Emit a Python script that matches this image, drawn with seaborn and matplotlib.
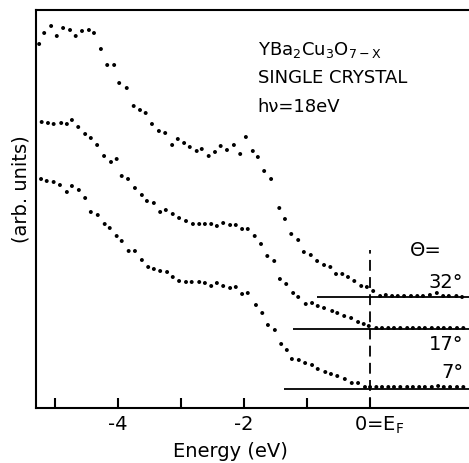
import numpy as np
import pandas as pd
import matplotlib
matplotlib.use("Agg")
import matplotlib.pyplot as plt
import matplotlib.transforms as mtransforms
import seaborn as sns

# photoemission spectra, energy relative to E_F (eV) and intensity (arb. units)
e_32 = [-5.25, -5.17, -5.06, -4.97, -4.87, -4.76, -4.67, -4.57, -4.46, -4.38,
        -4.27, -4.17, -4.06, -3.98, -3.86, -3.75, -3.65, -3.56, -3.46, -3.35,
        -3.25, -3.14, -3.05, -2.95, -2.86, -2.75, -2.67, -2.56, -2.46, -2.37,
        -2.27, -2.16, -2.06, -1.97, -1.86, -1.78, -1.68, -1.57, -1.44, -1.35,
        -1.25, -1.14, -1.05, -0.94, -0.84, -0.73, -0.63, -0.54, -0.44, -0.35,
        -0.25, -0.14, -0.05, 0.05, 0.16, 0.25, 0.35, 0.44, 0.54, 0.65,
        0.75, 0.84, 0.95, 1.06, 1.16, 1.25, 1.37, 1.46]
i_32 = [364, 375, 382, 372, 380, 378, 372, 377, 378, 375,
        359, 343, 343, 325, 320, 302, 298, 295, 284, 277,
        275, 263, 269, 265, 261, 257, 259, 252, 256, 262,
        258, 263, 254, 271, 257, 251, 237, 229, 200, 189,
        174, 168, 156, 153, 147, 143, 141, 134, 134, 131,
        127, 122, 121, 117, 112, 113, 112, 112, 112, 112,
        112, 112, 113, 115, 112, 112, 112, 111]

e_17 = [-5.21, -5.11, -5.02, -4.90, -4.81, -4.73, -4.63, -4.52, -4.43, -4.33,
        -4.22, -4.11, -4.02, -3.94, -3.84, -3.73, -3.62, -3.54, -3.43, -3.33,
        -3.24, -3.13, -3.03, -2.92, -2.81, -2.71, -2.62, -2.52, -2.43, -2.33,
        -2.22, -2.13, -2.03, -1.94, -1.83, -1.73, -1.63, -1.52, -1.43, -1.33,
        -1.22, -1.14, -1.02, -0.92, -0.83, -0.73, -0.60, -0.52, -0.41, -0.30,
        -0.19, -0.10, -0.02, 0.10, 0.19, 0.29, 0.38, 0.48, 0.59, 0.68,
        0.78, 0.87, 0.98, 1.08, 1.17, 1.27, 1.38, 1.48]
i_17 = [286, 285, 284, 285, 284, 288, 281, 274, 270, 263,
        252, 246, 249, 232, 229, 220, 213, 207, 205, 196,
        198, 194, 190, 187, 184, 184, 184, 184, 182, 185,
        183, 183, 179, 179, 172, 164, 152, 147, 129, 124,
        115, 111, 104, 105, 102, 100, 97, 95, 92, 90,
        86, 84, 82, 80, 80, 80, 80, 80, 80, 80,
        80, 80, 80, 80, 80, 80, 80, 80]

e_7 = [-5.22, -5.13, -5.02, -4.92, -4.81, -4.73, -4.62, -4.52, -4.43, -4.32,
       -4.21, -4.13, -4.02, -3.94, -3.83, -3.73, -3.62, -3.52, -3.43, -3.33,
       -3.22, -3.13, -3.03, -2.92, -2.83, -2.71, -2.62, -2.52, -2.43, -2.33,
       -2.22, -2.13, -2.03, -1.94, -1.81, -1.71, -1.62, -1.51, -1.41, -1.32,
       -1.24, -1.13, -1.03, -0.92, -0.83, -0.71, -0.62, -0.52, -0.40, -0.29,
       -0.19, -0.08, 0.00, 0.10, 0.19, 0.29, 0.38, 0.48, 0.59, 0.68,
       0.78, 0.87, 0.98, 1.08, 1.17, 1.27, 1.38, 1.48]
i_7 = [229, 227, 226, 223, 216, 222, 218, 210, 196, 193,
       184, 180, 172, 167, 157, 157, 148, 141, 139, 137,
       136, 131, 127, 126, 126, 126, 125, 122, 125, 122,
       120, 121, 114, 115, 103, 95, 83, 78, 64, 58,
       49, 48, 45, 43, 39, 36, 34, 32, 29, 25,
       25, 21, 21, 21, 21, 21, 21, 21, 21, 21,
       21, 21, 21, 22, 21, 21, 21, 21]

angles = ["32°", "17°", "7°"]
baseline_level = [111, 79, 19]
baseline_start = [-0.84, -1.22, -1.37]
angle_label_y = [126, 63, 35]

df = pd.concat([
    pd.DataFrame({"energy": e_32, "intensity": i_32, "angle": "32°"}),
    pd.DataFrame({"energy": e_17, "intensity": i_17, "angle": "17°"}),
    pd.DataFrame({"energy": e_7, "intensity": i_7, "angle": "7°"}),
])

sns.set_style("white")
plt.rcParams["font.family"] = ["DejaVu Sans"]
plt.rcParams["text.color"] = "black"
plt.rcParams["axes.labelcolor"] = "black"
plt.rcParams["xtick.color"] = "black"

fig = plt.figure(figsize=(4.69, 4.63), dpi=100)
ax = fig.add_axes([36 / 469, 55 / 463, 433 / 469, 398 / 463])

sns.scatterplot(data=df, x="energy", y="intensity", hue="angle",
                palette=["black"] * 3, s=8, linewidth=0, legend=False, ax=ax)

x_min, x_max = -5.3, 1.57
for lvl, start in zip(baseline_level, baseline_start):
    ax.hlines(lvl, start, x_max, color="black", lw=1.3)

ax.vlines(0, 0, 158, color="black", lw=1.3, linestyles=(0, (6, 3.5)))

ax.set_xlim(x_min, x_max)
ax.set_ylim(0, 398)

ax.set_xticks([-4, -2, 0])
ax.set_xticklabels(["-4", "-2", "0=E$_\\mathregular{F}$"])
ax.set_xticks([-5, -3, -1], minor=True)
ax.set_yticks([])
ax.tick_params(axis="x", which="both", direction="in", length=7, width=1.5,
               labelsize=14, pad=5, bottom=True, colors="black")
lbl = ax.get_xticklabels()[2]
lbl.set_transform(lbl.get_transform() +
                  mtransforms.ScaledTranslation(9 / 100, 0, fig.dpi_scale_trans))

for side in ["left", "bottom", "top"]:
    ax.spines[side].set_linewidth(1.5)
    ax.spines[side].set_color("black")
ax.spines["right"].set_visible(False)

ax.set_xlabel("Energy (eV)", fontsize=14, labelpad=4)
ax.xaxis.set_label_coords(0.45, -0.085)
ax.set_ylabel("(arb. units)", fontsize=14)
ax.yaxis.set_label_coords(-0.012, 0.55)

ax.text(-1.78, 358, "YBa$_\\mathregular{2}$Cu$_\\mathregular{3}$O$_\\mathregular{7-X}$",
        fontsize=13, va="center", ha="left")
ax.text(-1.78, 330, "SINGLE CRYSTAL", fontsize=13, va="center", ha="left")
ax.text(-1.78, 301, "h\u03bd=18eV", fontsize=13, va="center", ha="left")

ax.text(0.63, 158, "\u0398=", fontsize=14, va="center", ha="left")
for txt, yy in zip(angles, angle_label_y):
    ax.text(1.48, yy, txt, fontsize=14, va="center", ha="right")

fig.savefig("out.png", dpi=100)
